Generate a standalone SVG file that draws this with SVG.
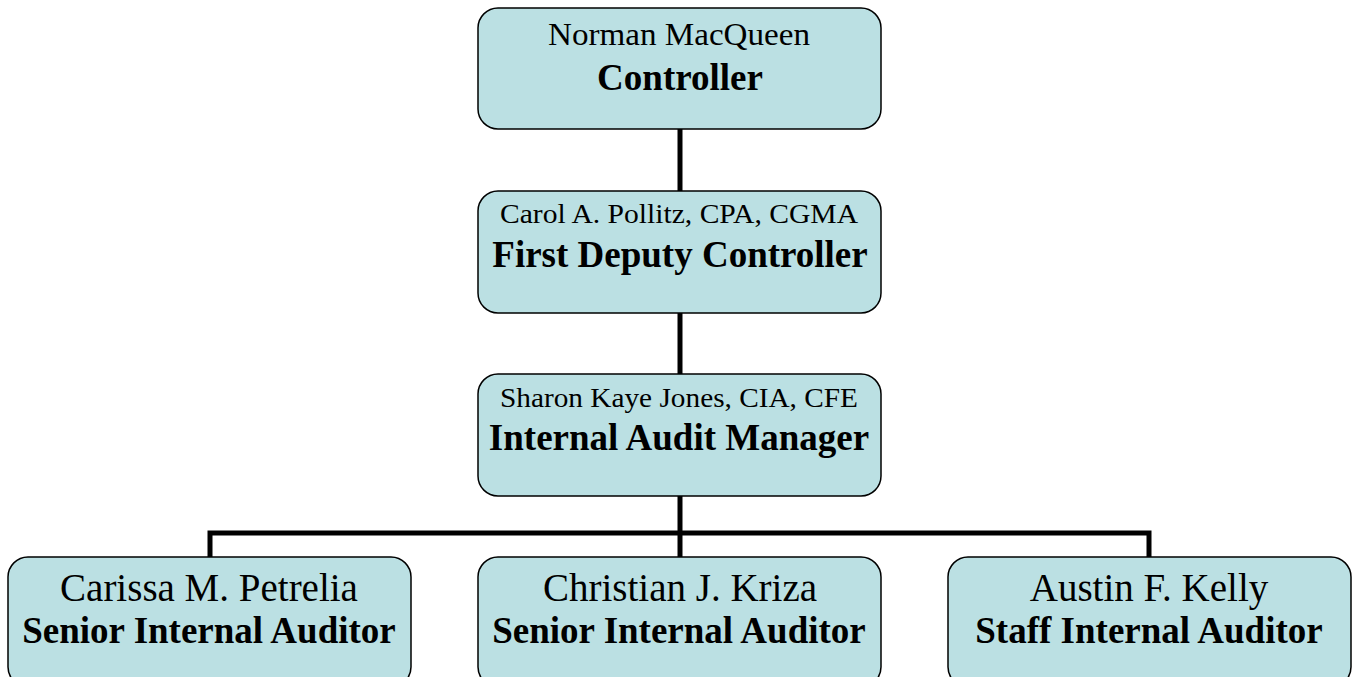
<svg xmlns="http://www.w3.org/2000/svg" width="1354" height="677" viewBox="0 0 1354 677">
<style>
.box{fill:#BBE0E3;stroke:#000;stroke-width:1.5}
.line{stroke:#000;stroke-width:5;fill:none}
text{font-family:"Liberation Serif","Times New Roman",serif;text-anchor:middle;fill:#000}
.t{font-size:37px;font-weight:bold}
.bn{font-size:39px}
</style>
<rect width="1354" height="677" fill="#fff"/>
<g id="connectors">
<line class="line" x1="680" y1="129" x2="680" y2="191"/>
<line class="line" x1="680" y1="313" x2="680" y2="374"/>
<line class="line" x1="680" y1="496" x2="680" y2="557"/>
<polyline class="line" points="210,557 210,533 1149,533 1149,557"/>
</g>
<g id="controller">
<rect class="box" x="478" y="8" width="403" height="121" rx="20"/>
<text x="679" y="45" font-size="31" textLength="262" lengthAdjust="spacingAndGlyphs">Norman MacQueen</text>
<text class="t" x="680" y="90" font-size="38">Controller</text>
</g>
<g id="deputy">
<rect class="box" x="478" y="191" width="403" height="122" rx="20"/>
<text x="679" y="223" font-size="27" textLength="358" lengthAdjust="spacingAndGlyphs">Carol A. Pollitz, CPA, CGMA</text>
<text class="t" x="680" y="267">First Deputy Controller</text>
</g>
<g id="manager">
<rect class="box" x="478" y="374" width="403" height="122" rx="20"/>
<text x="679" y="407" font-size="27" textLength="358" lengthAdjust="spacingAndGlyphs">Sharon Kaye Jones, CIA, CFE</text>
<text class="t" x="679" y="450">Internal Audit Manager</text>
</g>
<g id="petrelia">
<rect class="box" x="8" y="557" width="403" height="130" rx="20"/>
<text class="bn" x="209" y="601">Carissa M. Petrelia</text>
<text class="t" x="209" y="643">Senior Internal Auditor</text>
</g>
<g id="kriza">
<rect class="box" x="478" y="557" width="403" height="130" rx="20"/>
<text class="bn" x="680" y="601">Christian J. Kriza</text>
<text class="t" x="679" y="643">Senior Internal Auditor</text>
</g>
<g id="kelly">
<rect class="box" x="948" y="557" width="403" height="130" rx="20"/>
<text class="bn" x="1149" y="601">Austin F. Kelly</text>
<text class="t" x="1149" y="643">Staff Internal Auditor</text>
</g>
</svg>
